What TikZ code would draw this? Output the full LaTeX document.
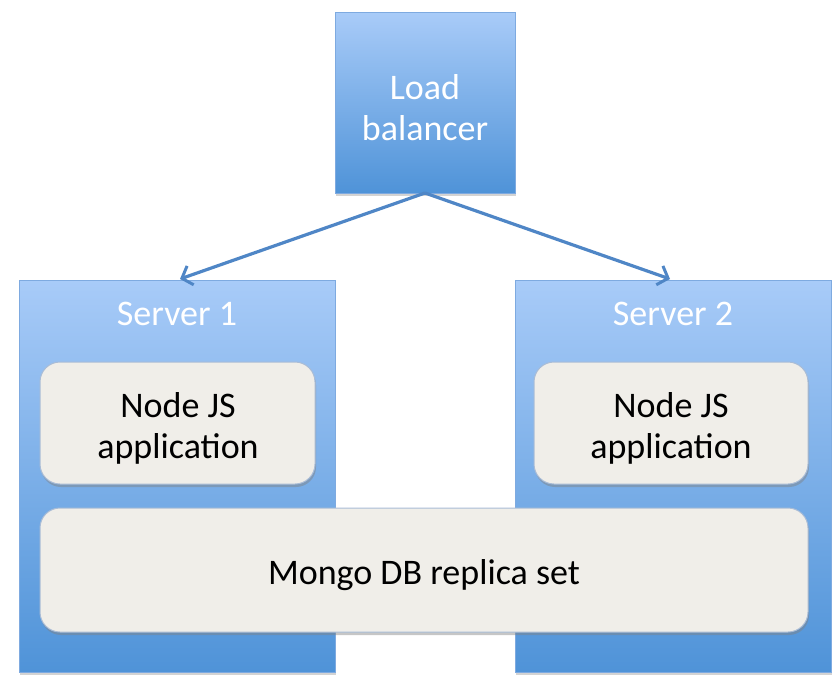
\documentclass[tikz,border=0pt]{standalone}
\usepackage{fontspec}
\setmainfont{Carlito}
\usetikzlibrary{arrows.meta,shadows,positioning}
\definecolor{bluetop}{HTML}{A8CBF8}
\definecolor{bluebot}{HTML}{4F93D8}
\definecolor{blueedge}{HTML}{7EAAE0}
\definecolor{arrowblue}{HTML}{4F86C6}
\definecolor{cream}{HTML}{F0EEE9}
\definecolor{creamedge}{HTML}{A9BCD6}
\tikzset{
  bluebox/.style={draw=blueedge, line width=1pt, top color=bluetop, bottom color=bluebot,
    drop shadow={opacity=0.35, shadow xshift=1pt, shadow yshift=-3pt}},
  creambox/.style={draw=creamedge, line width=1pt, fill=cream, rounded corners=20pt,
    drop shadow={opacity=0.45, shadow xshift=1pt, shadow yshift=-3pt}},
  whitetxt/.style={text=white, font=\fontsize{36}{41}\selectfont, align=center},
  blacktxt/.style={text=black, font=\fontsize{36}{41}\selectfont, align=center},
  conn/.style={draw=arrowblue, line width=3.2pt, -{Straight Barb[length=9pt,width=20pt,line width=3pt]}}
}
\begin{document}
\begin{tikzpicture}[x=1pt,y=-1pt]
\useasboundingbox (0,0) rectangle (840,682);
% servers
\path[bluebox] (19,280) rectangle (335,672);
\path[bluebox] (515,280) rectangle (831,672);
\node[whitetxt] (s1) at (177,314) {Server 1};
\node[whitetxt] (s2) at (673,314) {Server 2};
% load balancer
\path[bluebox] (335,13) rectangle (515,193);
\node[whitetxt] (lb) at (425,108) {Load\\balancer};
\coordinate (lbb) at (425,193);
\coordinate (s1t) at (180,279);
\coordinate (s2t) at (670,279);
% node js boxes
\path[creambox] (40,362) rectangle (315,484);
\path[creambox] (534,362) rectangle (808,484);
\node[blacktxt] (n1) at (178,428) {Node JS\\application};
\node[blacktxt] (n2) at (671,428) {Node JS\\application};
% mongo
\path[creambox] (40,508) rectangle (808,632);
\node[blacktxt] (m) at (424,575) {Mongo DB replica set};
% arrows
\draw[conn] (lbb) -- (s1t);
\draw[conn] (lbb) -- (s2t);
\end{tikzpicture}
\end{document}
